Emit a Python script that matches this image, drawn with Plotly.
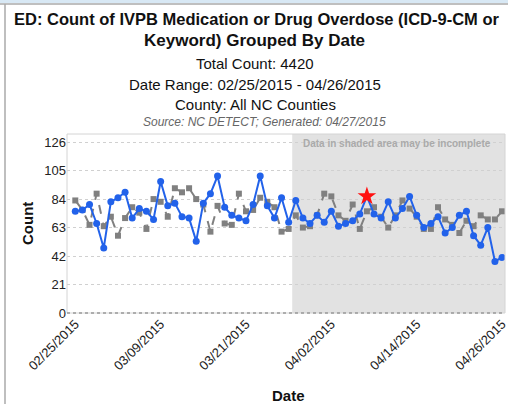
import pandas as pd
import plotly.graph_objects as go

dates = pd.date_range("2015-02-25", "2015-04-26", freq="D")

counts = [75, 76, 80, 66, 48, 82, 85, 89, 70, 77,
          75, 69, 97, 79, 81, 71, 70, 53, 81, 88,
          101, 78, 72, 70, 68, 80, 101, 79, 70, 85,
          67, 83, 70, 66, 72, 67, 75, 64, 66, 68,
          73, 86, 73, 70, 82, 70, 77, 86, 72, 63,
          66, 71, 59, 63, 72, 75, 57, 50, 63, 38,
          41]

expected = [83, 76, 65, 88, 64, 71, 57, 70, 78, 74,
            62, 84, 82, 71, 92, 89, 92, 84, 80, 60,
            79, 66, 65, 88, 75, 76, 85, 82, 78, 60,
            62, 72, 63, 64, 72, 88, 86, 72, 68, 80,
            62, 75, 78, 71, 63, 72, 83, 77, 71, 62,
            62, 78, 69, 65, 59, 68, 64, 72, 69, 69,
            75]

alert_date = "2015-04-07"
alert_value = 86

tick_dates = ["2015-02-25", "2015-03-09", "2015-03-21",
              "2015-04-02", "2015-04-14", "2015-04-26"]
y_ticks = [0, 21, 42, 63, 84, 105, 126]

incomplete_from = "2015-03-27 12:00"

# text, centre x, centre y, size, colour
title_lines = [
    ("<b>ED: Count of IVPB Medication or Drug Overdose (ICD-9-CM or</b>", 257, 19, 16.5, "#111"),
    ("<b>Keyword) Grouped By Date</b>", 254, 40, 17, "#111"),
    ("Total Count: 4420", 255, 63, 15, "#111"),
    ("Date Range: 02/25/2015 - 04/26/2015", 255, 84, 15, "#111"),
    ("County: All NC Counties", 255, 104, 15, "#111"),
    ("<i>Source: NC DETECT; Generated: 04/27/2015</i>", 264, 122, 12, "#666"),
]

W, H = 508, 404
L, R, T, B = 67, 505, 134, 313


def px(x):
    return (x - L) / (R - L)


def py(y):
    return (B - y) / (B - T)


fig = go.Figure()

fig.add_trace(go.Scatter(
    x=dates, y=expected, mode="lines+markers",
    line=dict(color="#808080", width=2, dash="dash"),
    marker=dict(symbol="square", size=6, color="#808080"),
    showlegend=False))

fig.add_trace(go.Scatter(
    x=dates, y=counts, mode="lines+markers",
    line=dict(color="#2262ea", width=2),
    marker=dict(symbol="circle", size=7, color="#2262ea"),
    showlegend=False))

fig.add_trace(go.Scatter(
    x=[alert_date], y=[alert_value], mode="markers",
    marker=dict(symbol="star", size=14, color="#ff1010"),
    showlegend=False))

# shaded incomplete-data region
fig.add_shape(type="rect", xref="x", yref="paper", x0=incomplete_from, x1="2015-04-27",
              y0=0, y1=1, fillcolor="#e2e2e2", line_width=0, layer="below")
# plot border
fig.add_shape(type="rect", xref="paper", yref="paper", x0=0, x1=1, y0=0, y1=1,
              line=dict(color="#d4d4d4", width=1))
# dotted baseline
fig.add_shape(type="line", xref="paper", yref="paper", x0=0, x1=1, y0=0, y1=0,
              line=dict(color="#999999", width=1.5, dash="dot"))
# outer frame
fig.add_shape(type="rect", xref="paper", yref="paper", x0=px(0), x1=px(W), y0=py(0), y1=py(3),
              fillcolor="#d8e8f4", line_width=0)
fig.add_shape(type="line", xref="paper", yref="paper", x0=px(0), x1=px(W), y0=py(4), y1=py(4),
              line=dict(color="#aaaaaa", width=1.5))
fig.add_shape(type="line", xref="paper", yref="paper", x0=px(5), x1=px(5), y0=py(4), y1=py(H),
              line=dict(color="#aaaaaa", width=1.5))

for text, x, y, size, color in title_lines:
    fig.add_annotation(text=text, xref="paper", yref="paper", x=px(x), y=py(y),
                       xanchor="center", yanchor="middle", showarrow=False,
                       font=dict(size=size, color=color))

fig.add_annotation(text="<b>Data in shaded area may be incomplete</b>", xref="paper", yref="paper",
                   x=px(397), y=py(143), xanchor="center", yanchor="middle", showarrow=False,
                   font=dict(size=10, color="#aaaaaa"))

# axis titles
fig.add_annotation(text="<b>Count</b>", xref="paper", yref="paper", x=px(27), y=py(224),
                   xanchor="center", yanchor="middle", textangle=-90, showarrow=False,
                   font=dict(size=15, color="#111"))
fig.add_annotation(text="<b>Date</b>", xref="paper", yref="paper", x=px(288), y=py(395),
                   xanchor="center", yanchor="middle", showarrow=False,
                   font=dict(size=15, color="#111"))

fig.update_layout(
    width=W, height=H,
    margin=dict(l=L, r=W - R, t=T, b=H - B),
    paper_bgcolor="white", plot_bgcolor="white",
    font=dict(family="Liberation Sans, Arial, sans-serif", color="#222"),
    xaxis=dict(
        range=["2015-02-23 20:00", "2015-04-26 10:00"],
        tickvals=tick_dates, tickformat="%m/%d/%Y", tickangle=-45,
        tickfont=dict(size=13), showgrid=False, zeroline=False, automargin=False,
        ticklabeloverflow="allow",
    ),
    yaxis=dict(
        range=[0, 132], tickvals=y_ticks, tickfont=dict(size=13),
        showgrid=True, gridcolor="#d0d0d0", griddash="dot", zeroline=False, automargin=False,
    ),
)

fig.write_html(
    "out.html",
    config={"displayModeBar": False},
    post_script="document.body.style.margin='0';document.body.style.overflow='hidden';",
)
